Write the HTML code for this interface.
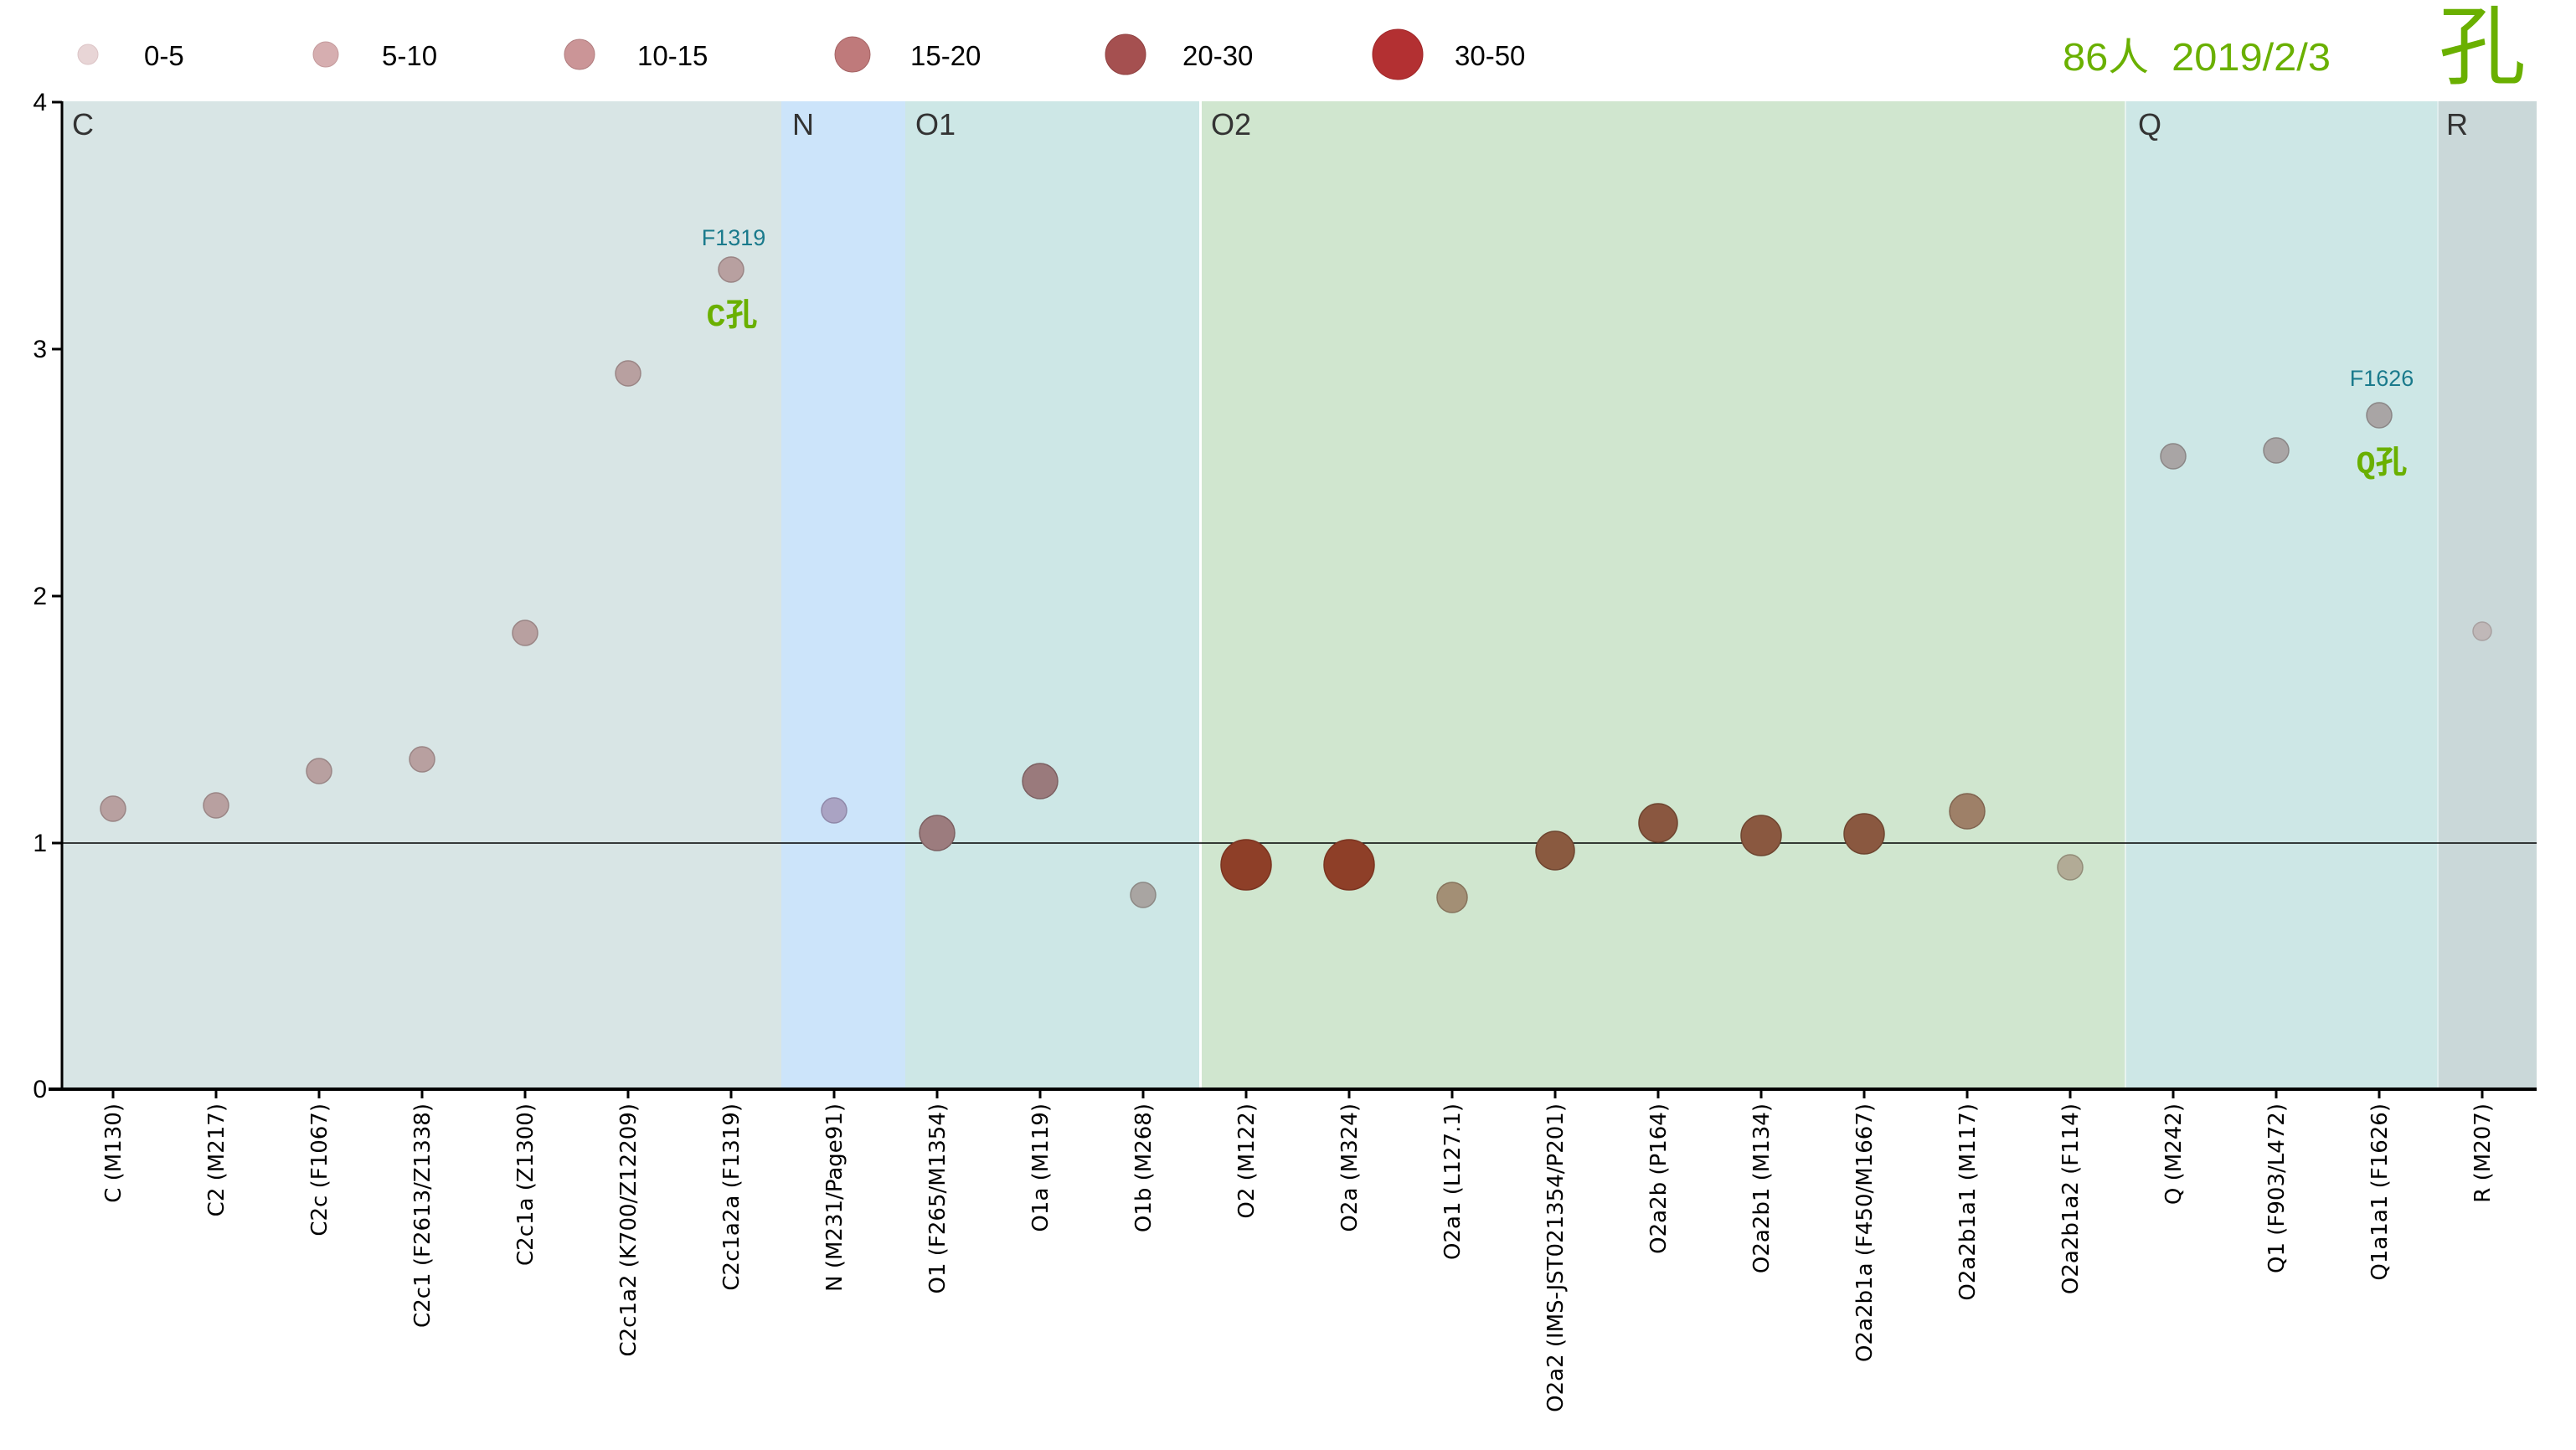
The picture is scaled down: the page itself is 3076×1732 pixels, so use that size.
<!DOCTYPE html>
<html><head><meta charset="utf-8"><style>
html,body{margin:0;padding:0;background:#fff}
svg{display:block}
.tk{font-family:"DejaVu Sans",sans-serif;font-size:26px;fill:#000}
.lg{font-family:"Liberation Sans",sans-serif;font-size:33px;fill:#000}
.bd{font-family:"Liberation Sans",sans-serif;font-size:36px;fill:#333}
</style></head><body>
<svg width="3076" height="1732" xmlns="http://www.w3.org/2000/svg">
<rect x="74" y="121" width="859" height="1180" fill="#d8e5e5"/>
<rect x="933" y="121" width="148" height="1180" fill="#cce4fa"/>
<rect x="1081" y="121" width="352" height="1180" fill="#cde7e6"/>
<rect x="1433" y="121" width="1105" height="1180" fill="#d0e6cf"/>
<rect x="2538" y="121" width="373" height="1180" fill="#cde7e6"/>
<rect x="2911" y="121" width="118" height="1180" fill="#cad8d9"/>
<line x1="1433.5" y1="121" x2="1433.5" y2="1301" stroke="#fff" stroke-width="3"/>
<line x1="2538" y1="121" x2="2538" y2="1301" stroke="#e8f3f0" stroke-width="2"/>
<line x1="2911" y1="121" x2="2911" y2="1301" stroke="#e0eeee" stroke-width="2"/>
<text class="bd" x="86" y="161">C</text>
<text class="bd" x="946" y="161">N</text>
<text class="bd" x="1093" y="161">O1</text>
<text class="bd" x="1446" y="161">O2</text>
<text class="bd" x="2553" y="161">Q</text>
<text class="bd" x="2921" y="161">R</text>
<line x1="74" y1="1007" x2="3029" y2="1007" stroke="#000" stroke-width="1.5"/>
<line x1="74" y1="121" x2="74" y2="1303" stroke="#000" stroke-width="3"/>
<line x1="58" y1="1301" x2="3029" y2="1301" stroke="#000" stroke-width="4"/>
<g stroke="#000" stroke-width="3">
<line x1="62" y1="122" x2="74" y2="122"/><line x1="62" y1="417" x2="74" y2="417"/>
<line x1="62" y1="712" x2="74" y2="712"/><line x1="62" y1="1007" x2="74" y2="1007"/>
</g>
<g font-family="Liberation Sans,sans-serif" font-size="30" text-anchor="end">
<text x="56" y="132">4</text><text x="56" y="427">3</text><text x="56" y="722">2</text><text x="56" y="1017">1</text><text x="56" y="1311">0</text>
</g>
<g id="ticks"></g>
<g stroke-width="1.5">
<circle cx="135" cy="966" r="15" fill="#b8a0a0" stroke="#9a8585"/>
<circle cx="258" cy="962" r="15" fill="#b8a0a0" stroke="#9a8585"/>
<circle cx="381" cy="921" r="15" fill="#b8a0a0" stroke="#9a8585"/>
<circle cx="504" cy="907" r="15" fill="#b8a0a0" stroke="#9a8585"/>
<circle cx="627" cy="756" r="15" fill="#b8a0a0" stroke="#9a8585"/>
<circle cx="750" cy="446" r="15" fill="#b8a0a0" stroke="#9a8585"/>
<circle cx="873" cy="322" r="15" fill="#b8a0a0" stroke="#9a8585"/>
<circle cx="996" cy="968" r="15" fill="#aaa3c3" stroke="#8f88a8"/>
<circle cx="1119" cy="995" r="21" fill="#9c7c7e" stroke="#7c6062"/>
<circle cx="1242" cy="933" r="21" fill="#9a7a7c" stroke="#7c6062"/>
<circle cx="1365" cy="1069" r="15" fill="#a9a5a2" stroke="#8c8884"/>
<circle cx="1488" cy="1033" r="30" fill="#8e3f28" stroke="#7a3420"/>
<circle cx="1611" cy="1033" r="30" fill="#8e3f28" stroke="#7a3420"/>
<circle cx="1734" cy="1072" r="18" fill="#a38f75" stroke="#86735c"/>
<circle cx="1857" cy="1016" r="23" fill="#8a5a40" stroke="#6e4530"/>
<circle cx="1980" cy="983" r="23" fill="#8a5740" stroke="#6e4530"/>
<circle cx="2103" cy="998" r="24" fill="#8a5840" stroke="#6e4530"/>
<circle cx="2226" cy="996" r="24" fill="#8a5840" stroke="#6e4530"/>
<circle cx="2349" cy="969" r="21" fill="#9e8068" stroke="#806450"/>
<circle cx="2472" cy="1036" r="15" fill="#b2ab96" stroke="#928c78"/>
<circle cx="2595" cy="545" r="15" fill="#a9a5a5" stroke="#8a8686"/>
<circle cx="2718" cy="538" r="15" fill="#a9a5a5" stroke="#8a8686"/>
<circle cx="2841" cy="496" r="15" fill="#a9a5a5" stroke="#8a8686"/>
<circle cx="2964" cy="754" r="11" fill="#c0b8b8" stroke="#a8a0a0"/>
</g>
<g font-family="Liberation Sans,sans-serif" font-size="27" fill="#1a7a8c" text-anchor="middle">
<text x="876" y="293">F1319</text><text x="2844" y="461">F1626</text>
</g>
<g font-family="'Liberation Mono','Noto Sans CJK SC',monospace" font-size="38" font-weight="bold" fill="#6ab000" text-anchor="middle">
<text x="874" y="389">C孔</text><text x="2844" y="565">Q孔</text>
</g>
<g stroke-width="1">
<circle cx="105" cy="65" r="12" fill="#e8d5d6" stroke="#dcc4c6"/>
<circle cx="389" cy="65" r="15" fill="#d6aeb0" stroke="#c49a9c"/>
<circle cx="692" cy="65" r="18" fill="#cb9597" stroke="#b07c7e"/>
<circle cx="1018" cy="65" r="21" fill="#bf7a7b" stroke="#a56465"/>
<circle cx="1344" cy="65" r="24" fill="#a55050" stroke="#8f4040"/>
<circle cx="1669" cy="65" r="30" fill="#b33032" stroke="#a02628"/>
</g>
<g class="lg">
<text x="172" y="78">0-5</text><text x="456" y="78">5-10</text><text x="761" y="78">10-15</text>
<text x="1087" y="78">15-20</text><text x="1412" y="78">20-30</text><text x="1737" y="78">30-50</text>
</g>
<text x="2463" y="84" font-family="'Liberation Sans','Noto Sans CJK SC',sans-serif" font-size="46" fill="#6ab000" textLength="320" lengthAdjust="spacingAndGlyphs" xml:space="preserve">86人  2019/2/3</text>
<text x="2912" y="92" font-family="'Noto Sans CJK SC',sans-serif" font-size="104" fill="#6ab000">孔</text>
</svg>
<script>
var labels=["C (M130)","C2 (M217)","C2c (F1067)","C2c1 (F2613/Z1338)","C2c1a (Z1300)","C2c1a2 (K700/Z12209)","C2c1a2a (F1319)","N (M231/Page91)","O1 (F265/M1354)","O1a (M119)","O1b (M268)","O2 (M122)","O2a (M324)","O2a1 (L127.1)","O2a2 (IMS-JST021354/P201)","O2a2b (P164)","O2a2b1 (M134)","O2a2b1a (F450/M1667)","O2a2b1a1 (M117)","O2a2b1a2 (F114)","Q (M242)","Q1 (F903/L472)","Q1a1a1 (F1626)","R (M207)"];
var g=document.getElementById("ticks"),h="";
labels.forEach(function(l,i){var x=135+123*i;
h+='<line x1="'+x+'" y1="1301" x2="'+x+'" y2="1312" stroke="#000" stroke-width="3"/>';
h+='<text class="tk" text-anchor="end" transform="translate('+(x+9)+',1318) rotate(-90)">'+l+'</text>';});
g.innerHTML=h;
</script>
</body></html>
